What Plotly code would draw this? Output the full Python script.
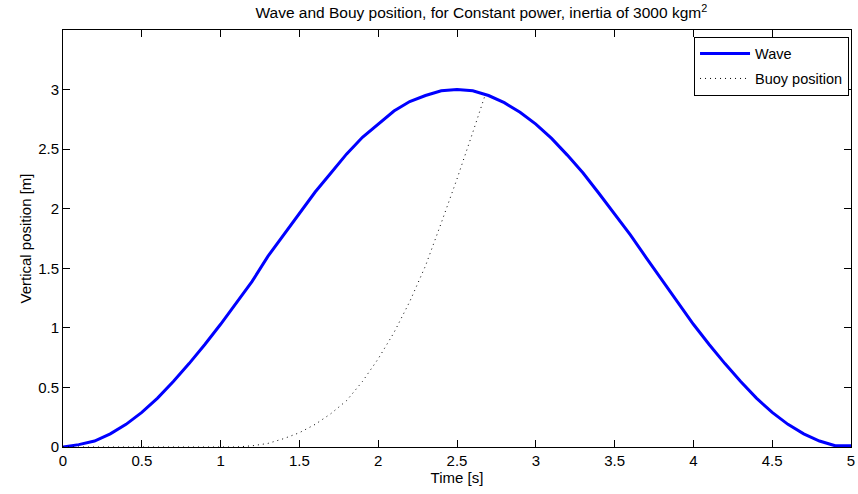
import plotly.graph_objects as go

# Wave series (time in s, vertical position in m)
wave_t = [0.0, 0.1, 0.2, 0.3, 0.4, 0.5, 0.6, 0.7, 0.8, 0.9, 1.0, 1.1, 1.2, 1.3, 1.4,
          1.5, 1.6, 1.7, 1.8, 1.9, 2.0, 2.1, 2.2, 2.3, 2.4, 2.5, 2.6, 2.7, 2.8, 2.9,
          3.0, 3.1, 3.2, 3.3, 3.4, 3.5, 3.6, 3.7, 3.8, 3.9, 4.0, 4.1, 4.2, 4.3, 4.4,
          4.5, 4.6, 4.7, 4.8, 4.9, 5.0]
wave_y = [0.0, 0.02, 0.05, 0.11, 0.19, 0.29, 0.41, 0.55, 0.70, 0.86, 1.03, 1.21, 1.39,
          1.60, 1.78, 1.96, 2.14, 2.30, 2.46, 2.60, 2.71, 2.82, 2.90, 2.95, 2.99, 3.0,
          2.99, 2.95, 2.89, 2.81, 2.71, 2.59, 2.45, 2.30, 2.13, 1.96, 1.78, 1.59, 1.40,
          1.22, 1.03, 0.86, 0.70, 0.55, 0.41, 0.29, 0.19, 0.11, 0.05, 0.01, 0.01]

# Buoy position series
buoy_t = [0.0, 0.5, 1.0, 1.1, 1.2, 1.3, 1.4, 1.5, 1.6, 1.7, 1.8, 1.9, 2.0, 2.1, 2.2,
          2.3, 2.4, 2.5, 2.6, 2.68]
buoy_y = [0.0, 0.0, 0.0, 0.0, 0.01, 0.03, 0.07, 0.12, 0.19, 0.28, 0.39, 0.55, 0.74,
          0.96, 1.22, 1.52, 1.88, 2.25, 2.64, 2.96]

x_ticks = [0, 0.5, 1, 1.5, 2, 2.5, 3, 3.5, 4, 4.5, 5]
y_ticks = [0, 0.5, 1, 1.5, 2, 2.5, 3]

font = "Liberation Sans, Arial, sans-serif"

fig = go.Figure()
fig.add_trace(go.Scatter(x=wave_t, y=wave_y, mode="lines", name="Wave",
                         legendgroup="a",
                         line=dict(color="#0000ff", width=3)))
fig.add_trace(go.Scatter(x=buoy_t, y=buoy_y, mode="lines", name="Buoy position",
                         legendgroup="b",
                         line=dict(color="black", width=1, dash="1px,4px")))

axis_common = dict(showline=True, linecolor="black", linewidth=1, mirror="ticks",
                   ticks="inside", ticklen=7, tickcolor="black", showgrid=False,
                   zeroline=False, tickfont=dict(size=15, color="black", family=font))

fig.update_layout(
    width=858, height=494,
    margin=dict(l=63, r=3, t=30, b=47),
    paper_bgcolor="white", plot_bgcolor="white",
    font=dict(family=font, size=15, color="black"),
    title=dict(text="Wave and Bouy position, for Constant power, inertia of 3000 kgm<sup>2</sup>",
               xref="container", x=0.561, xanchor="center", y=0.974, yanchor="middle",
               font=dict(size=15.5, family=font, color="black")),
    xaxis=dict(range=[0, 5], tickvals=x_ticks, ticktext=[str(v) for v in x_ticks],
               ticklabeloverflow="allow",
               title=dict(text="Time [s]", standoff=2, font=dict(size=15)), **axis_common),
    yaxis=dict(range=[0, 3.5], tickvals=y_ticks, ticktext=[str(v) for v in y_ticks],
               title=dict(text="Vertical position [m]", standoff=2, font=dict(size=15)),
               **axis_common),
    legend=dict(x=0.9975, y=0.984, xanchor="right", yanchor="top",
                bgcolor="white", bordercolor="black", borderwidth=1,
                font=dict(size=14.5, family=font), tracegroupgap=3,
                itemwidth=50),
    showlegend=True,
)

fig.write_html("out.html")
